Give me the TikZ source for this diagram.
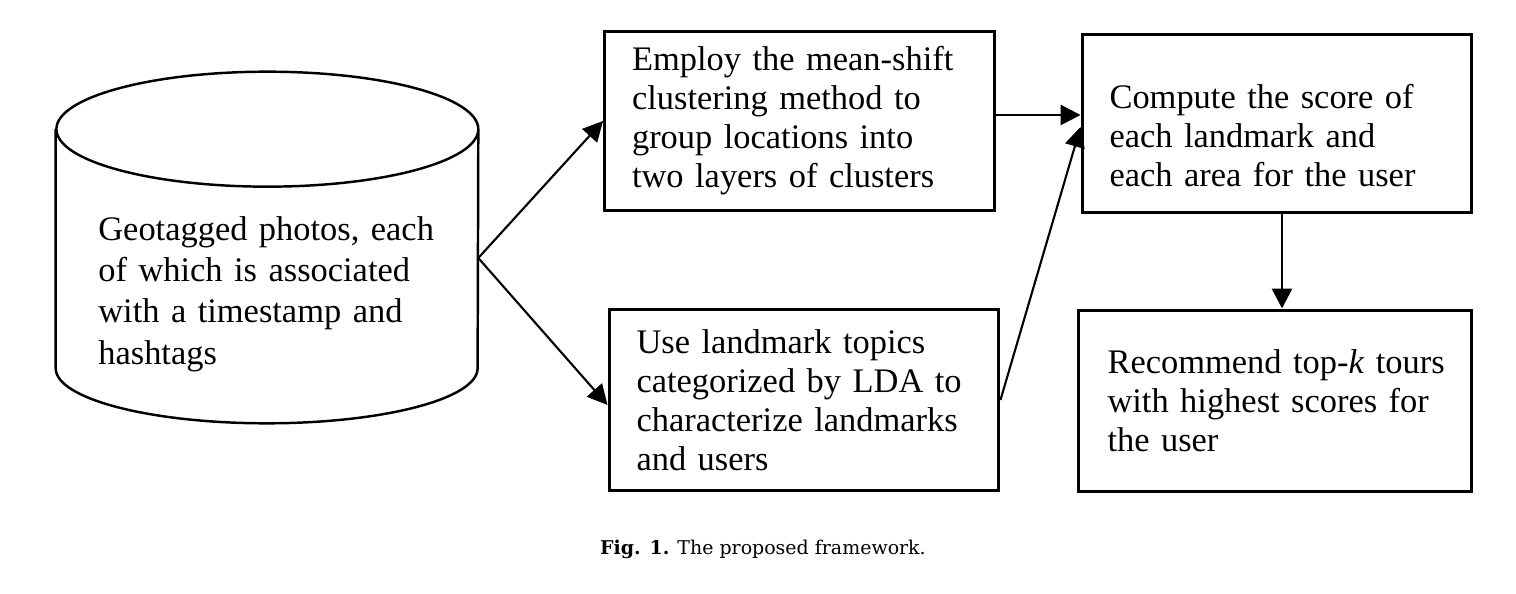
\documentclass[tikz,border=0pt]{standalone}
\usepackage{fontspec}
\setmainfont{Liberation Serif}
\newfontfamily\capfont{DejaVu Serif}
\usetikzlibrary{arrows.meta}

\begin{document}
\begin{tikzpicture}
[
    x=0.02cm, y=-0.02cm,
    procbox/.style={draw, line width=1.7pt, minimum width=7.8cm, minimum height=3.6cm, text width=6.7cm, inner xsep=0.55cm, align=left, font=\fontsize{19.6}{22.2}\selectfont},
    flowarrow/.style={line width=1.2pt, -{Triangle[length=0.4cm, width=0.4cm]}},
    dbline/.style={line width=1.4pt},
]
\useasboundingbox (0,0) rectangle (1516,594);
\node [minimum width=8.44cm, minimum height=7.02cm, inner sep=0pt] (photos) at (267,247.5) {};
\draw [dbline] ([yshift=-1.15cm]photos.north west) -- ([yshift=1.1cm]photos.south west)
    arc[start angle=180, end angle=360, x radius=4.22cm, y radius=1.1cm]
    -- ([yshift=-1.15cm]photos.north east)
    arc[start angle=0, end angle=360, x radius=4.22cm, y radius=1.15cm];
\node [anchor=west, inner sep=0pt, text width=7cm, align=left, font=\fontsize{19.6}{23.6}\selectfont] (photostext) at (98,294)
{Geotagged photos, each\\ of which is associated\\ with a timestamp and\\ hashtags};
\node [procbox] (cluster) at (799.5,121)
{Employ the mean-shift\\ clustering method to\\ group locations into\\ two layers of clusters};
\node [procbox, minimum height=3.64cm] (topics) at (804,400)
{Use landmark topics\\ categorized by LDA to\\ characterize landmarks\\ and users};
\node [procbox, minimum height=3.58cm] (score) at (1277,123.5)
{\rule{0pt}{0.95cm}Compute the score of\\ each landmark and\\ each area for the user};
\node [procbox, minimum width=7.88cm, minimum height=3.64cm] (recommend) at (1275,401)
{\mbox{Recommend top-\textit{k} tours}\\ with highest scores for\\ the user};
\draw [flowarrow] ([yshift=-0.21cm]photos.east) -- (cluster.west);
\draw [flowarrow] ([yshift=-0.21cm]photos.east) -- ([yshift=-0.1cm]topics.west);
\draw [flowarrow, line width=1.6pt] ([yshift=0.12cm]cluster.east) -- ([yshift=0.12cm]cluster.east -| score.west);
\draw [flowarrow] (topics.east) -- ([yshift=-0.07cm]score.west);
\draw [flowarrow, line width=1.6pt] ([xshift=0.1cm]score.south) -- ([xshift=0.1cm]score.south |- recommend.north);
\node [anchor=base, font=\capfont\fontsize{10.8}{13}\selectfont] (caption) at (763,555)
{\textbf{Fig. 1.} The proposed framework.};
\end{tikzpicture}
\end{document}
